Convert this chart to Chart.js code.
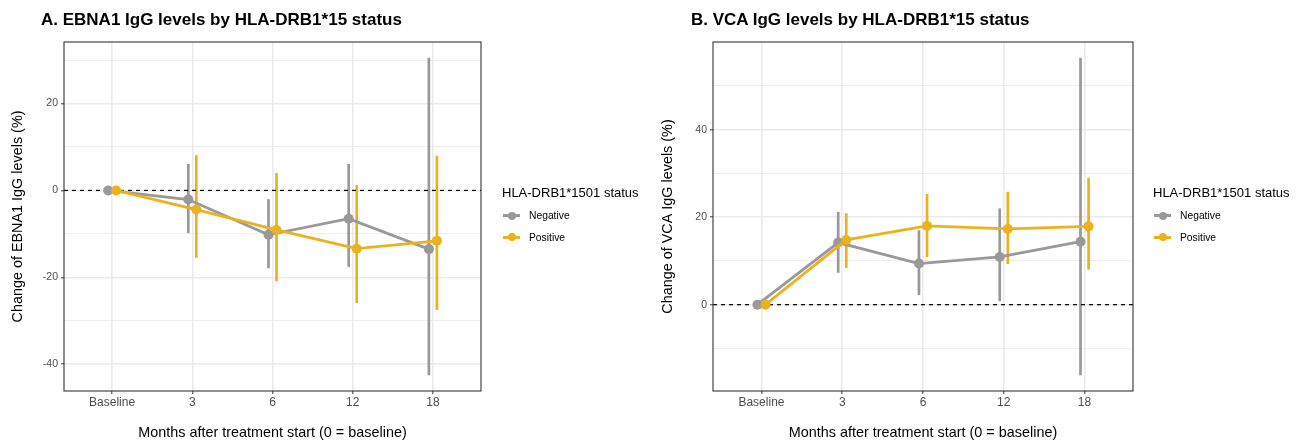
<!DOCTYPE html>
<html>
<head>
<meta charset="utf-8">
<script src="https://cdn.jsdelivr.net/npm/chart.js@4.4.1/dist/chart.umd.min.js"></script>
<style>
  body { margin: 0; background: #fff; font-family: "Liberation Sans", Arial, sans-serif; }
  #wrap { position: relative; width: 1301px; height: 443px; overflow: hidden; }
  canvas { position: absolute; top: 0; }
  .title { position: absolute; top: 10px; font-weight: bold; font-size: 17px; line-height: 20px; white-space: nowrap; color: #000; }
  .legend { position: absolute; top: 184px; color: #000; }
  .legend .lt { font-size: 13px; line-height: 17px; white-space: nowrap; }
  .legend .item { position: relative; height: 21.5px; font-size: 10.3px; }
  .legend .item .ln { position: absolute; left: 1px; top: 13px; width: 17px; height: 3px; }
  .legend .item .pt { position: absolute; left: 5.5px; top: 10.5px; width: 8px; height: 8px; border-radius: 50%; }
  .legend .item span { position: absolute; left: 27px; top: 8px; line-height: 13px; white-space: nowrap; }
</style>
</head>
<body>
<div id="wrap">
  <canvas id="chartA" width="650" height="443" style="left:0"></canvas>
  <canvas id="chartB" width="651" height="443" style="left:650px"></canvas>
  <div class="title" style="left:41px">A. EBNA1 IgG levels by HLA-DRB1*15 status</div>
  <div class="title" style="left:691px">B. VCA IgG levels by HLA-DRB1*15 status</div>
  <div class="legend" id="legA" style="left:502px"></div>
  <div class="legend" id="legB" style="left:1153px"></div>
</div>
<script>
// categories and series
const categories = ['Baseline', '3', '6', '12', '18'];
const groupNames = ['Negative', 'Positive'];
const groupColors = ['#999999', '#EBB11F'];
const legendTitle = 'HLA-DRB1*1501 status';

// A. EBNA1 (mean change %, with lower / upper interval)
const ebnaNeg     = [0, -2.1, -10.2, -6.5, -13.5];
const ebnaNegLow  = [null, -9.8, -17.9, -17.6, -42.5];
const ebnaNegHigh = [null, 6.1, -2.0, 6.1, 30.5];
const ebnaPos     = [0, -4.4, -9.1, -13.4, -11.6];
const ebnaPosLow  = [null, -15.5, -20.9, -25.9, -27.5];
const ebnaPosHigh = [null, 8.1, 4.0, 1.2, 8.0];
const ebnaTicks   = [-40, -30, -20, -10, 0, 10, 20, 30];

// B. VCA
const vcaNeg     = [0, 14.2, 9.4, 10.9, 14.4];
const vcaNegLow  = [null, 7.3, 2.2, 0.8, -16.1];
const vcaNegHigh = [null, 21.2, 17.0, 22.0, 56.4];
const vcaPos     = [0, 14.8, 18.0, 17.3, 17.9];
const vcaPosLow  = [null, 8.4, 10.9, 9.3, 8.0];
const vcaPosHigh = [null, 20.9, 25.3, 25.8, 29.0];
const vcaTicks   = [-10, 0, 10, 20, 30, 40, 50];

const DODGE = 0.05;
const FONT = '"Liberation Sans", Arial, sans-serif';

// error bars + dashed zero line + panel border
const panelPlugin = {
  id: 'panelExtras',
  beforeDatasetsDraw(chart) {
    const { ctx, chartArea, scales: { x, y } } = chart;
    ctx.save();
    ctx.lineCap = 'butt';
    chart.data.datasets.forEach(ds => {
      ds.low.forEach((lo, i) => {
        const hi = ds.high[i];
        if (lo == null || hi == null) return;
        const px = x.getPixelForValue(i + ds.dodge);
        ctx.strokeStyle = ds.borderColor;
        ctx.lineWidth = 2.7;
        ctx.beginPath();
        ctx.moveTo(px, y.getPixelForValue(lo));
        ctx.lineTo(px, y.getPixelForValue(hi));
        ctx.stroke();
      });
    });
    const y0 = y.getPixelForValue(0);
    ctx.setLineDash([4, 4]);
    ctx.strokeStyle = '#000';
    ctx.lineWidth = 1.2;
    ctx.beginPath();
    ctx.moveTo(chartArea.left, y0);
    ctx.lineTo(chartArea.right, y0);
    ctx.stroke();
    ctx.restore();
  },
  afterDraw(chart) {
    const { ctx, chartArea: a } = chart;
    ctx.save();
    ctx.strokeStyle = '#333333';
    ctx.lineWidth = 1.1;
    ctx.strokeRect(a.left, a.top, a.right - a.left, a.bottom - a.top);
    ctx.restore();
  }
};

function makeSeries(vals, low, high, k) {
  return {
    label: groupNames[k],
    data: vals.map((v, i) => ({ x: i + (k === 0 ? -DODGE : DODGE), y: v })),
    low: low, high: high,
    dodge: k === 0 ? -DODGE : DODGE,
    borderColor: groupColors[k],
    backgroundColor: groupColors[k],
    borderWidth: 2.8,
    pointRadius: 5,
    pointBorderWidth: 0,
    pointHoverRadius: 5,
    order: 2 - k,
    tension: 0
  };
}

function makeChart(id, series, yTicks, yTitle, yWidth, padRight) {
  let lo = Infinity, hi = -Infinity;
  series.forEach(s => {
    s[0].concat(s[1], s[2]).forEach(v => { if (v != null) { lo = Math.min(lo, v); hi = Math.max(hi, v); } });
  });
  const ex = (hi - lo) * 0.05;
  new Chart(document.getElementById(id), {
    type: 'line',
    data: { datasets: series.map((s, k) => makeSeries(s[0], s[1], s[2], k)) },
    options: {
      responsive: false,
      animation: false,
      layout: { padding: { left: 0, top: 42, right: padRight, bottom: 0 } },
      plugins: { legend: { display: false }, tooltip: { enabled: false }, title: { display: false } },
      scales: {
        x: {
          type: 'linear', min: -0.6, max: 4.6,
          afterBuildTicks: axis => { axis.ticks = categories.map((c, i) => ({ value: i })); },
          afterFit: axis => { axis.height = 52; },
          ticks: { callback: v => categories[v], font: { family: FONT, size: 12 }, color: '#4D4D4D', padding: 1, maxRotation: 0 },
          grid: { color: '#EBEBEB', lineWidth: 1.6, tickColor: '#333333', tickLength: 3, tickWidth: 1 },
          border: { display: false },
          title: { display: true, text: 'Months after treatment start (0 = baseline)', font: { family: FONT, size: 14.4 }, color: '#000', padding: { top: 0, bottom: 1.4 } }
        },
        y: {
          min: lo - ex, max: hi + ex,
          afterBuildTicks: axis => { axis.ticks = yTicks.map(v => ({ value: v })); },
          afterFit: axis => { axis.width = yWidth; },
          ticks: { callback: v => (v % 20 === 0 ? v : ''), font: { family: FONT, size: 10.5 }, color: '#4D4D4D', padding: 3 },
          grid: {
            color: '#EBEBEB',
            lineWidth: c => (c.tick && c.tick.value % 20 === 0 ? 1.6 : 0.8),
            tickColor: c => (c.tick && c.tick.value % 20 === 0 ? '#333333' : 'rgba(0,0,0,0)'),
            tickLength: 3, tickWidth: 1
          },
          border: { display: false },
          title: { display: true, text: yTitle, font: { family: FONT, size: 14.4 }, color: '#000', padding: { top: 9.8, bottom: 0 } }
        }
      }
    },
    plugins: [panelPlugin]
  });
}

function makeLegend(id) {
  const el = document.getElementById(id);
  let html = '<div class="lt">' + legendTitle + '</div>';
  groupNames.forEach((n, k) => {
    html += '<div class="item"><div class="ln" style="background:' + groupColors[k] + '"></div>' +
            '<div class="pt" style="background:' + groupColors[k] + '"></div><span>' + n + '</span></div>';
  });
  el.innerHTML = html;
}

makeChart('chartA', [[ebnaNeg, ebnaNegLow, ebnaNegHigh], [ebnaPos, ebnaPosLow, ebnaPosHigh]],
  ebnaTicks, 'Change of EBNA1 IgG levels (%)', 64, 169);
makeChart('chartB', [[vcaNeg, vcaNegLow, vcaNegHigh], [vcaPos, vcaPosLow, vcaPosHigh]],
  vcaTicks, 'Change of VCA IgG levels (%)', 63, 168);
makeLegend('legA');
makeLegend('legB');
</script>
</body>
</html>
